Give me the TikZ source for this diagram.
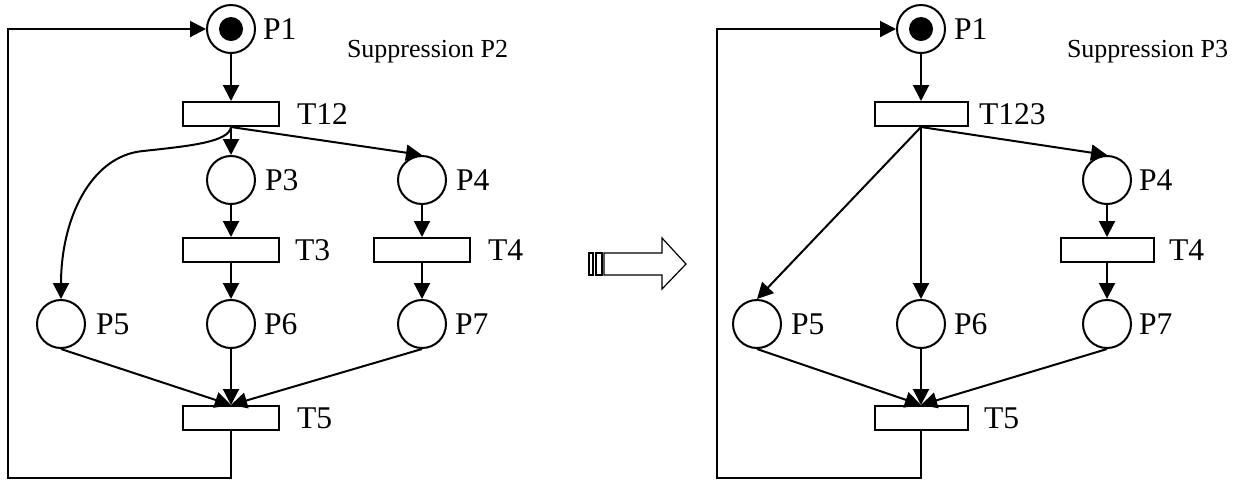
\documentclass[tikz,border=0pt]{standalone}
\usepackage{fontspec}
\setmainfont{Liberation Serif}
\usetikzlibrary{arrows.meta}
\begin{document}
\begin{tikzpicture}[x=0.5pt,y=-0.5pt,
  line width=1pt,
  place/.style={circle,draw,minimum size=24pt,inner sep=0pt},
  trans/.style={rectangle,draw,minimum width=48pt,minimum height=12pt,inner sep=0pt},
  transr/.style={rectangle,draw,minimum width=46.5pt,minimum height=12pt,inner sep=0pt},
  token/.style={circle,fill=black,minimum size=12pt,inner sep=0pt},
  lbl/.style={anchor=base west,inner sep=0pt,font=\fontsize{15.8}{18}\selectfont},
  title/.style={anchor=base west,inner sep=0pt,font=\fontsize{13}{16}\selectfont},
  arc/.style={-{Triangle[length=8pt,width=8pt]}}
]
\useasboundingbox (0,0) rectangle (1240,479);

% ---------- left net ----------
\node[place] (P1) at (231,29) {};
\node[token] (K1) at (231,29) {};
\node[trans] (T12) at (231,114) {};
\node[place] (P3) at (231,180) {};
\node[place] (P4) at (422,180) {};
\node[trans] (T3) at (231,250) {};
\node[trans] (T4) at (422,250) {};
\node[place] (P5) at (61,324) {};
\node[place] (P6) at (231,324) {};
\node[place] (P7) at (422,324) {};
\node[trans] (T5) at (231,418) {};

\node[lbl] (lP1) at (262,39) {P1};
\node[lbl] (lT12) at (296,124) {T12};
\node[lbl] (lP3) at (264,190) {P3};
\node[lbl] (lP4) at (455,190) {P4};
\node[lbl] (lT3) at (294,260) {T3};
\node[lbl] (lT4) at (487,260) {T4};
\node[lbl] (lP5) at (95,334) {P5};
\node[lbl] (lP6) at (263,334) {P6};
\node[lbl] (lP7) at (454,334) {P7};
\node[lbl] (lT5) at (296,428) {T5};
\node[title] (S2) at (346,57) {Suppression P2};

\draw[arc] (P1) -- (T12);
\draw[arc] (T12.south) -- (P3);
\draw[arc] (T12.south) -- (P4.north);
\draw[arc] (T12.south) .. controls (229,142) and (190,146) .. (143,151)
                       .. controls (90,156) and (61,220) .. (P5.north);
\draw[arc] (P3) -- (T3);
\draw[arc] (T3) -- (P6);
\draw[arc] (P4) -- (T4);
\draw[arc] (T4) -- (P7);
\draw[arc] (P5.south) -- (T5.north);
\draw[arc] (P6) -- (T5);
\draw[arc] (P7.south) -- (T5.north);
\coordinate (LA) at (231,478);
\coordinate (LB) at (8,478);
\coordinate (LC) at (8,29);
\draw[arc] (T5.south) -- (LA) -- (LB) -- (LC) -- (P1.west);

% ---------- middle arrow ----------
\draw[line width=0.6pt] (589,253) rectangle (593,275);
\draw[line width=0.6pt] (596,253) rectangle (602,275);
\draw[line width=0.6pt] (604,253) -- (662,253) -- (662,238) -- (686,264)
   -- (662,289) -- (662,275) -- (604,275) -- cycle;

% ---------- right net ----------
\node[place] (Q1) at (921,29) {};
\node[token] (K2) at (921,29) {};
\node[transr] (U123) at (921,114) {};
\node[place] (Q4) at (1107,180) {};
\node[transr] (U4) at (1107,250) {};
\node[place] (Q5) at (757,324) {};
\node[place] (Q6) at (921,324) {};
\node[place] (Q7) at (1107,324) {};
\node[transr] (U5) at (921,418) {};

\node[lbl] (lQ1) at (953,39) {P1};
\node[lbl] (lU123) at (978,124) {T123};
\node[lbl] (lQ4) at (1138,190) {P4};
\node[lbl] (lU4) at (1168,260) {T4};
\node[lbl] (lQ5) at (790,334) {P5};
\node[lbl] (lQ6) at (953,334) {P6};
\node[lbl] (lQ7) at (1138,334) {P7};
\node[lbl] (lU5) at (983,428) {T5};
\node[title] (S3) at (1066,57) {Suppression P3};

\draw[arc] (Q1) -- (U123);
\draw[arc] (U123.south) -- (Q4.north);
\draw[arc] (U123.south) -- (Q5.north);
\draw[arc] (U123.south) -- (Q6.north);
\draw[arc] (Q4) -- (U4);
\draw[arc] (U4) -- (Q7);
\draw[arc] (Q5.south) -- (U5.north);
\draw[arc] (Q6) -- (U5);
\draw[arc] (Q7.south) -- (U5.north);
\coordinate (RA) at (921,478);
\coordinate (RB) at (717,478);
\coordinate (RC) at (717,29);
\draw[arc] (U5.south) -- (RA) -- (RB) -- (RC) -- (Q1.west);
\end{tikzpicture}
\end{document}
